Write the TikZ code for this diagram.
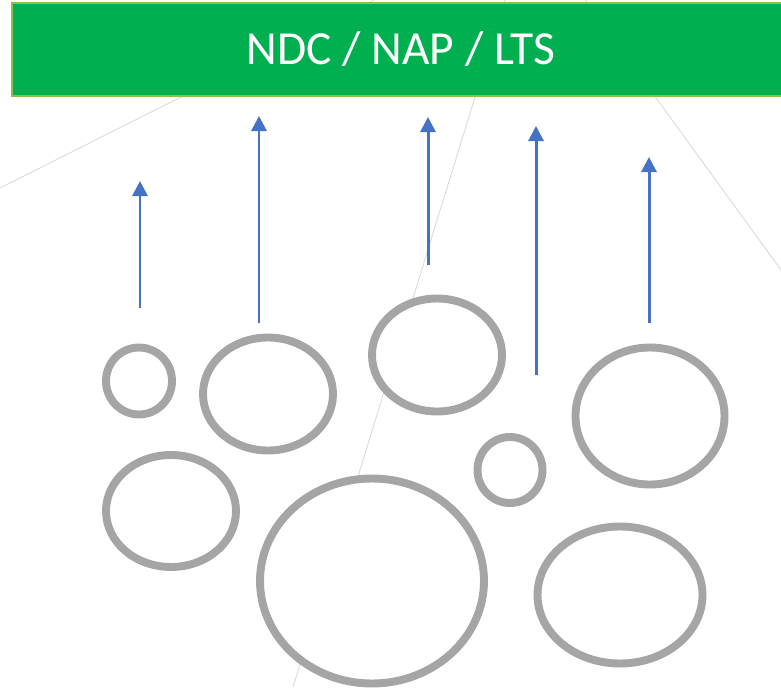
\documentclass[tikz,border=0pt]{standalone}
\usepackage{fontspec}
\setmainfont{Carlito}
\usepackage{xcolor}
\definecolor{cBar}{HTML}{00B050}
\definecolor{cBarEdge}{HTML}{8CBF50}
\definecolor{cRing}{HTML}{A5A5A5}
\definecolor{cArrow}{HTML}{4472C4}
\definecolor{cGuide}{HTML}{DADADA}
\usepackage{tikz}
\usetikzlibrary{positioning, arrows.meta, shapes.geometric}

\begin{document}
\begin{tikzpicture}[
    banner/.style={draw=cBarEdge, line width=0.8pt, fill=cBar, text=white,
                   minimum width=15.56cm, minimum height=1.86cm,
                   inner sep=0pt, font=\fontsize{27}{30}\selectfont},
    ring/.style={ellipse, draw=cRing, line width=4.5pt, fill=white,
                 inner sep=0pt},
    arr/.style={-{Triangle[length=0.3cm, width=0.3cm]}, line width=1.7pt,
                color=cArrow},
    guide/.style={cGuide, line width=0.5pt}
]
\useasboundingbox (0,0) rectangle (15.62,-13.74);

% faint guide lines behind everything
\draw[guide] (0,-3.76) -- (7.48,0);
\draw[guide] (10.10,0) -- (5.86,-13.74);
\draw[guide] (11.70,0) -- (15.62,-5.40);

\node[banner] (goal) at (8.02,-0.99) {NDC / NAP / LTS};

% rings
\node[ring, minimum width=1.32cm, minimum height=1.34cm] (r1) at (2.78,-7.62) {};
\node[ring, minimum width=2.60cm, minimum height=2.26cm] (r2) at (5.36,-7.88) {};
\node[ring, minimum width=2.60cm, minimum height=2.26cm] (r3) at (8.74,-7.10) {};
\node[ring, minimum width=1.30cm, minimum height=1.32cm] (r4) at (10.20,-9.40) {};
\node[ring, minimum width=2.98cm, minimum height=2.74cm] (r5) at (13.00,-8.32) {};
\node[ring, minimum width=2.60cm, minimum height=2.24cm] (r6) at (3.42,-10.22) {};
\node[ring, minimum width=4.48cm, minimum height=4.10cm] (r7) at (7.44,-11.62) {};
\node[ring, minimum width=3.30cm, minimum height=2.74cm] (r8) at (12.40,-11.90) {};

% upward arrows
\coordinate (a1s) at (2.80,-6.16);  \coordinate (a1e) at (2.80,-3.62);
\coordinate (a2s) at (5.18,-6.46);  \coordinate (a2e) at (5.18,-2.32);
\coordinate (a3s) at (8.56,-5.30);  \coordinate (a3e) at (8.56,-2.34);
\coordinate (a4s) at (10.72,-7.50); \coordinate (a4e) at (10.72,-2.52);
\coordinate (a5s) at (12.98,-6.46); \coordinate (a5e) at (12.98,-3.14);

\draw[arr] (a1s) -- (a1e);
\draw[arr] (a2s) -- (a2e);
\draw[arr] (a3s) -- (a3e);
\draw[arr] (a4s) -- (a4e);
\draw[arr] (a5s) -- (a5e);
\end{tikzpicture}
\end{document}
